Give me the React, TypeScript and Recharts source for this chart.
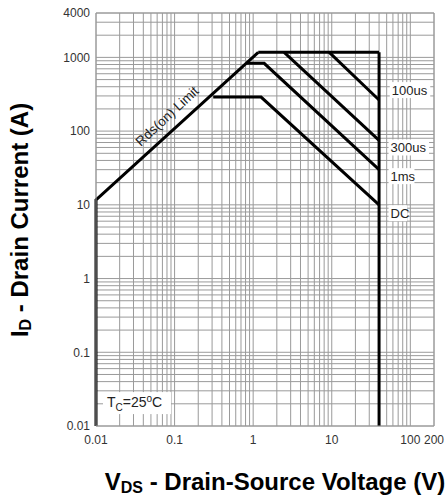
import { LineChart, Line, XAxis, YAxis, ReferenceLine, ReferenceDot } from 'recharts';

// tick labels
const xTicks = [0.01, 0.1, 1, 10, 100, 200];
const yTicks = [0.01, 0.1, 1, 10, 100, 1000, 4000];

// log grid: mantissas per decade
const mantissas = [1, 2, 3, 4, 5, 6, 7, 8, 9];
const xDecades = [0.01, 0.1, 1, 10, 100];
const yDecades = [0.01, 0.1, 1, 10, 100, 1000];

// SOA boundary curves (V, A)
const rdsLimit = [
  { v: 0.01, i: 0.01 },
  { v: 0.01, i: 11.7 },
  { v: 1.16, i: 1170 },
];
const pulseLimit = [
  { v: 1.16, i: 1170 },
  { v: 40, i: 1170 },
];
const vdssLimit = [
  { v: 40, i: 1170 },
  { v: 40, i: 0.01 },
];
const curve100us = [
  { v: 9.3, i: 1170 },
  { v: 40, i: 264 },
];
const curve300us = [
  { v: 2.48, i: 1170 },
  { v: 40, i: 75 },
];
const curve1ms = [
  { v: 0.82, i: 830 },
  { v: 1.38, i: 830 },
  { v: 40, i: 30 },
];
const curveDC = [
  { v: 0.31, i: 290 },
  { v: 1.26, i: 290 },
  { v: 40, i: 10 },
];

const curveLabels = [
  { text: '100us', v: 58, i: 360 },
  { text: '300us', v: 56, i: 60 },
  { text: '1ms', v: 56, i: 24.5 },
  { text: 'DC', v: 56, i: 7.7 },
];

const gridX = [...xDecades.flatMap((d) => mantissas.map((m) => +(m * d).toPrecision(3))), 200];
const gridY = [...yDecades.flatMap((d) => mantissas.map((m) => +(m * d).toPrecision(3))).filter((y) => y <= 4000), 4000];

const series = [rdsLimit, pulseLimit, vdssLimit, curve100us, curve300us, curve1ms, curveDC];

const FONT = '"Liberation Sans", Arial, sans-serif';
const GRID = '#9a9a9a';

function BoxLabel(props: any) {
  const { viewBox, text } = props;
  const w = text.length * 7.3 + 4;
  return (
    <g>
      <rect x={viewBox.x - 2} y={viewBox.y - 8} width={w} height={16} fill="#fff" />
      <text x={viewBox.x} y={viewBox.y} dy="0.35em" fontSize={13} fill="#222" fontFamily={FONT}>
        {text}
      </text>
    </g>
  );
}

function RdsLabel(props: any) {
  const { viewBox } = props;
  return (
    <text
      x={viewBox.x}
      y={viewBox.y}
      textAnchor="middle"
      dy="0.35em"
      fontSize={13.5}
      fill="#222"
      fontFamily={FONT}
      transform={`rotate(-43 ${viewBox.x} ${viewBox.y})`}
    >
      Rds(on) Limit
    </text>
  );
}

function TcLabel(props: any) {
  const { viewBox } = props;
  return (
    <g>
      <rect x={viewBox.x - 4} y={viewBox.y - 10} width={68} height={22} fill="#fff" />
      <text x={viewBox.x} y={viewBox.y} dy="0.35em" fontSize={14} fill="#222" fontFamily={FONT}>
        T
        <tspan fontSize={10} dy={4}>C</tspan>
        <tspan dy={-4}>=25</tspan>
        <tspan fontSize={10} dy={-5}>o</tspan>
        <tspan dy={5}>C</tspan>
      </text>
    </g>
  );
}

export default function App() {
  return (
    <div style={{ position: 'absolute', left: 0, top: 0, width: 446, height: 499, background: '#fff' }}>
      <LineChart width={446} height={499} margin={{ top: 13, right: 12, bottom: 43, left: 0 }}>
        <XAxis
          dataKey="v"
          type="number"
          scale="log"
          domain={[0.01, 200]}
          ticks={xTicks}
          axisLine={{ stroke: GRID }}
          tickLine={false}
          tickSize={0}
          tickMargin={9}
          height={30}
          tick={{ fontSize: 12, fill: '#333', fontFamily: FONT }}
        />
        <YAxis
          dataKey="i"
          type="number"
          scale="log"
          domain={[0.01, 4000]}
          ticks={yTicks}
          axisLine={{ stroke: GRID }}
          tickLine={false}
          tickSize={0}
          tickMargin={6}
          width={96}
          tick={{ fontSize: 12, fill: '#333', fontFamily: FONT }}
        />
        {gridX.map((x) => (
          <ReferenceLine key={'x' + x} x={x} stroke={GRID} strokeWidth={1} />
        ))}
        {gridY.map((y) => (
          <ReferenceLine key={'y' + y} y={y} stroke={GRID} strokeWidth={1} />
        ))}
        {series.map((d, k) => (
          <Line
            key={k}
            data={d}
            dataKey="i"
            type="linear"
            stroke="#000"
            strokeWidth={3}
            dot={false}
            isAnimationActive={false}
          />
        ))}
        {curveLabels.map((l) => (
          <ReferenceDot key={l.text} x={l.v} y={l.i} r={0} fill="none" stroke="none" label={<BoxLabel text={l.text} />} />
        ))}
        <ReferenceDot x={0.08} y={160} r={0} fill="none" stroke="none" label={<RdsLabel />} />
        <ReferenceDot x={0.0138} y={0.0211} r={0} fill="none" stroke="none" label={<TcLabel />} />
        <text x={20} y={220} textAnchor="middle" dy="0.35em" fontSize={24} fontWeight="bold" fill="#000" fontFamily={FONT} transform="rotate(-90 20 220)">
          I<tspan fontSize={16} dy={3}>D</tspan>
          <tspan dy={-3}> - Drain Current (A)</tspan>
        </text>
        <text x={275} y={490} textAnchor="middle" fontSize={24} fontWeight="bold" fill="#000" fontFamily={FONT}>
          V<tspan fontSize={16} dy={3}>DS</tspan>
          <tspan dy={-3}> - Drain-Source Voltage (V)</tspan>
        </text>
      </LineChart>
    </div>
  );
}
